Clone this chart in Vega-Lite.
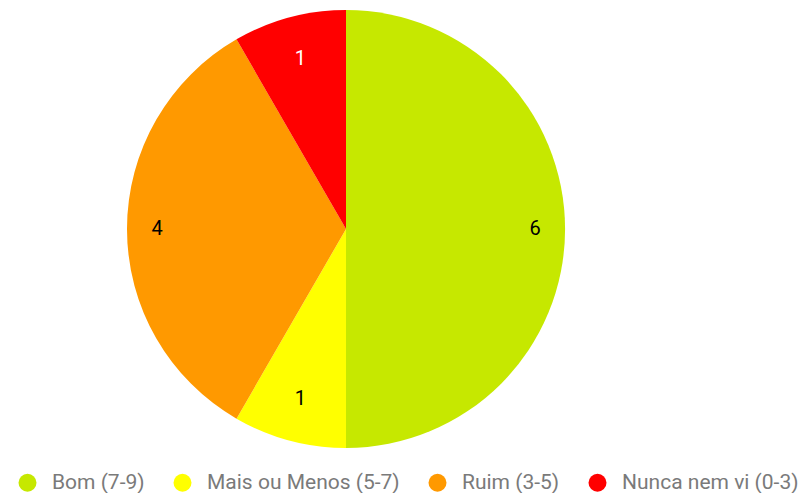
{
  "$schema": "https://vega.github.io/schema/vega-lite/v6.json",
  "width": 692,
  "height": 458,
  "padding": 0,
  "background": "white",
  "config": {"view": {"stroke": null}, "font": "Roboto"},
  "data": {
    "values": [
      {"category": "Bom (7-9)", "value": 6, "rank": 1},
      {"category": "Mais ou Menos (5-7)", "value": 1, "rank": 2},
      {"category": "Ruim (3-5)", "value": 4, "rank": 3},
      {"category": "Nunca nem vi (0-3)", "value": 1, "rank": 4}
    ]
  },
  "encoding": {
    "theta": {"field": "value", "type": "quantitative", "stack": true},
    "order": {"field": "rank", "type": "quantitative"}
  },
  "layer": [
    {
      "mark": {"type": "arc", "outerRadius": 219},
      "encoding": {
        "color": {
          "field": "category",
          "type": "nominal",
          "sort": ["Bom (7-9)", "Mais ou Menos (5-7)", "Ruim (3-5)", "Nunca nem vi (0-3)"],
          "scale": {
            "domain": ["Bom (7-9)", "Mais ou Menos (5-7)", "Ruim (3-5)", "Nunca nem vi (0-3)"],
            "range": ["#c6e800", "#ffff00", "#ff9900", "#ff0000"]
          },
          "legend": {
            "orient": "none",
            "direction": "horizontal",
            "legendX": 17,
            "legendY": 472,
            "padding": 0,
            "title": null,
            "symbolType": "circle",
            "symbolSize": 324,
            "symbolStrokeWidth": 0,
            "labelFont": "Roboto",
            "labelFontSize": 21,
            "labelColor": "#7a7a7a",
            "labelOffset": 14,
            "columnPadding": 27,
            "labelLimit": 400
          }
        }
      }
    },
    {
      "mark": {"type": "text", "radius": 189, "font": "Roboto", "fontSize": 20, "baseline": "middle", "align": "center"},
      "encoding": {
        "text": {"field": "value", "type": "quantitative"},
        "color": {"value": "#000000"},
        "opacity": {"condition": {"test": "datum.value >= 4", "value": 1}, "value": 0}
      }
    },
    {
      "mark": {"type": "text", "radius": 176, "font": "Roboto", "fontSize": 20, "baseline": "middle", "align": "center"},
      "encoding": {
        "text": {"field": "value", "type": "quantitative"},
        "color": {
          "condition": {"test": "datum.category === 'Nunca nem vi (0-3)'", "value": "#ffffff"},
          "value": "#000000"
        },
        "opacity": {"condition": {"test": "datum.value < 4", "value": 1}, "value": 0}
      }
    }
  ]
}
